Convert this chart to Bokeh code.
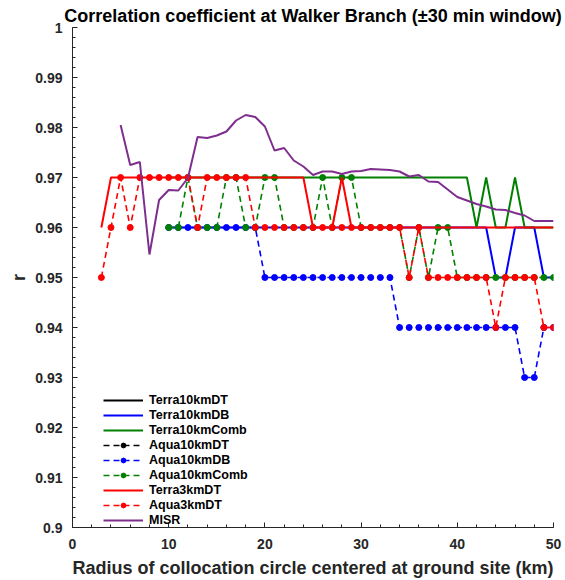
import numpy as np
from bokeh.plotting import figure
from bokeh.models import Range1d, FixedTicker, Legend, LegendItem
from bokeh.embed import file_html
from bokeh.resources import INLINE

# ---------------- data ----------------
x_3km = list(range(3, 51))
x_10km = list(range(10, 51))
x_misr = list(range(5, 51))

# DT 10 km series: no values drawn in the chart (legend only)
x_dt = [10]
terra10km_dt = [np.nan]
aqua10km_dt = [np.nan]

terra10km_db = [0.96] * 34 + [0.95, 0.95, 0.96, 0.96, 0.96, 0.95, 0.95]
terra10km_comb = [0.97] * 32 + [0.96, 0.97, 0.96, 0.96, 0.97, 0.96, 0.96, 0.96, 0.96]
aqua10km_db = [0.96] * 10 + [0.95] * 14 + [0.94] * 13 + [0.93, 0.93, 0.94, 0.94]
aqua10km_comb = [0.96, 0.96, 0.97, 0.96, 0.96, 0.96, 0.97, 0.97, 0.96, 0.96,
                 0.97, 0.97, 0.96, 0.96, 0.96, 0.96, 0.97, 0.96, 0.97, 0.97,
                 0.96, 0.96, 0.96, 0.96, 0.96, 0.95, 0.96, 0.95, 0.96, 0.96] + [0.95] * 11
terra3km_dt = [0.96] + [0.97] * 21 + [0.96, 0.96, 0.96, 0.97] + [0.96] * 22
aqua3km_dt = ([0.95, 0.96, 0.97, 0.96, 0.97, 0.97, 0.97, 0.97, 0.97, 0.97,
               0.96, 0.97, 0.97, 0.97, 0.97, 0.97, 0.96] + [0.96] * 15 +
              [0.95, 0.96] + [0.95] * 7 + [0.94] + [0.95] * 4 + [0.94, 0.94])
misr = [0.9805, 0.9725, 0.9731, 0.9546, 0.9655, 0.9675, 0.9674, 0.9699, 0.9781, 0.9779,
        0.9784, 0.9792, 0.9814, 0.9825, 0.9821, 0.9802, 0.9754, 0.9759, 0.9734, 0.9722,
        0.9705, 0.9712, 0.9712, 0.9707, 0.9712, 0.9713, 0.9717, 0.9716, 0.9715, 0.9712,
        0.9702, 0.9705, 0.9692, 0.9691, 0.9676, 0.9661, 0.9654, 0.9647, 0.9642, 0.9636,
        0.9635, 0.9629, 0.9624, 0.9613, 0.9613, 0.9613]

x_ticks = [0, 10, 20, 30, 40, 50]
x_minor = [v for v in range(0, 51, 2)]
y_ticks = [0.90, 0.91, 0.92, 0.93, 0.94, 0.95, 0.96, 0.97, 0.98, 0.99, 1.0]
y_tick_labels = ["0.9", "0.91", "0.92", "0.93", "0.94", "0.95", "0.96", "0.97", "0.98", "0.99", "1"]
y_minor = [round(0.9 + 0.002 * i, 3) for i in range(51)]

FONT = "Liberation Sans"
AX = "#262626"
BLACK = "#000000"
BLUE = "#0000FF"
GREEN = "#008000"
RED = "#FF0000"
PURPLE = "#7E2F8E"

p = figure(width=565, height=580, output_backend="svg", toolbar_location=None,
           x_range=Range1d(0, 50), y_range=Range1d(0.9, 1.0),
           min_border_left=72, min_border_right=12, min_border_top=27, min_border_bottom=53,
           title="Correlation coefficient at Walker Branch (\u00b130 min window)")
p.outline_line_color = None
p.grid.visible = False
p.background_fill_color = "white"

p.title.align = "center"
p.title.vertical_align = "top"
p.title.text_font = FONT
p.title.text_font_style = "bold"
p.title.text_font_size = "18px"
p.title.text_color = BLACK
p.title.text_line_height = 0.85
p.title.standoff = 0

for ax in (p.xaxis[0], p.yaxis[0]):
    ax.axis_line_color = AX
    ax.major_tick_line_color = AX
    ax.minor_tick_line_color = AX
    ax.major_tick_in = 5
    ax.major_tick_out = 0
    ax.minor_tick_in = 3
    ax.minor_tick_out = 0
    ax.major_label_text_font = FONT
    ax.major_label_text_font_style = "bold"
    ax.major_label_text_font_size = "14px"
    ax.major_label_text_color = AX
    ax.axis_label_text_font = FONT
    ax.axis_label_text_font_style = "bold"
    ax.axis_label_text_font_size = "18px"
    ax.axis_label_text_color = AX

p.xaxis.ticker = FixedTicker(ticks=x_ticks, minor_ticks=x_minor)
p.yaxis.ticker = FixedTicker(ticks=y_ticks, minor_ticks=y_minor)
p.yaxis.major_label_overrides = {t: l for t, l in zip(y_ticks, y_tick_labels)}
p.xaxis.axis_label = "Radius of collocation circle centered at ground site (km)"
p.yaxis.axis_label = "r"
p.xaxis.major_label_standoff = 11
p.yaxis.major_label_standoff = 10
p.yaxis.axis_label_standoff = 3
p.xaxis.axis_label_standoff = 6

SW = 2
DW = 1.6
DASH = "6 4"
MS = 6

r1 = p.line(x_dt, terra10km_dt, color=BLACK, line_width=SW)
r2 = p.line(x_10km, terra10km_db, color=BLUE, line_width=SW)
r3 = p.line(x_10km, terra10km_comb, color=GREEN, line_width=SW)
r4l = p.line(x_dt, aqua10km_dt, color=BLACK, line_width=DW, line_dash=DASH)
r4s = p.scatter(x_dt, aqua10km_dt, color=BLACK, size=MS)
r5l = p.line(x_10km, aqua10km_db, color=BLUE, line_width=DW, line_dash=DASH)
r5s = p.scatter(x_10km, aqua10km_db, color=BLUE, size=MS)
r6l = p.line(x_10km, aqua10km_comb, color=GREEN, line_width=DW, line_dash=DASH)
r6s = p.scatter(x_10km, aqua10km_comb, color=GREEN, size=MS)
r7 = p.line(x_3km, terra3km_dt, color=RED, line_width=SW)
r8l = p.line(x_3km, aqua3km_dt, color=RED, line_width=DW, line_dash=DASH)
r8s = p.scatter(x_3km, aqua3km_dt, color=RED, size=MS)
r9 = p.line(x_misr, misr, color=PURPLE, line_width=SW)

items = [
    LegendItem(label="Terra10kmDT", renderers=[r1]),
    LegendItem(label="Terra10kmDB", renderers=[r2]),
    LegendItem(label="Terra10kmComb", renderers=[r3]),
    LegendItem(label="Aqua10kmDT", renderers=[r4l, r4s]),
    LegendItem(label="Aqua10kmDB", renderers=[r5l, r5s]),
    LegendItem(label="Aqua10kmComb", renderers=[r6l, r6s]),
    LegendItem(label="Terra3kmDT", renderers=[r7]),
    LegendItem(label="Aqua3kmDT", renderers=[r8l, r8s]),
    LegendItem(label="MISR", renderers=[r9]),
]
legend = Legend(items=items, location=(31, 0), padding=0, margin=0, spacing=1,
                glyph_width=40, glyph_height=12, label_height=12, label_standoff=6,
                label_text_font=FONT, label_text_font_style="bold", label_text_font_size="12.5px",
                label_text_color=BLACK, border_line_alpha=0, background_fill_alpha=0)
p.add_layout(legend)

open("out.html", "w").write(file_html(p, INLINE))
